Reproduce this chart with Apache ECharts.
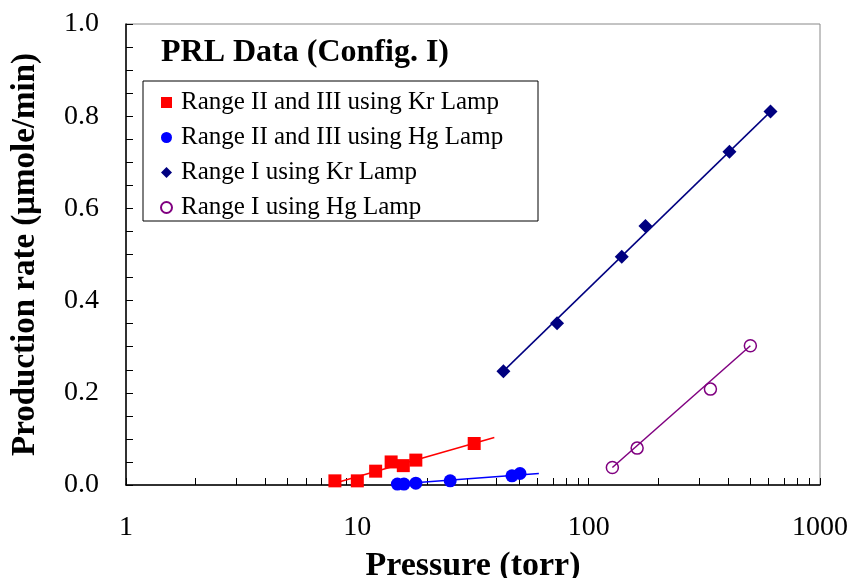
<!DOCTYPE html>
<html>
<head>
<meta charset="utf-8">
<script src="https://cdn.jsdelivr.net/npm/echarts@6/dist/echarts.min.js"></script>
<style>
  html, body { margin: 0; padding: 0; background: #fff; }
  #chart { width: 853px; height: 578px; }
</style>
</head>
<body>
<div id="chart"></div>
<script>
// pressure (torr) / production rate (umole/min)
var krLowX = [8, 10, 12, 14, 15.8, 17.9, 32];
var krLowY = [0.009, 0.009, 0.030, 0.050, 0.042, 0.054, 0.090];
var hgLowX = [14.9, 15.9, 17.9, 25.2, 46.6, 50.5];
var hgLowY = [0.002, 0.002, 0.004, 0.009, 0.020, 0.025];
var krHighX = [42.8, 73, 139, 176, 406, 611];
var krHighY = [0.247, 0.351, 0.495, 0.562, 0.723, 0.810];
var hgHighX = [126.6, 162, 336, 500];
var hgHighY = [0.038, 0.080, 0.208, 0.302];

// fitted lines (start / end)
var krLowFit = [[7.96, 0.004], [39.1, 0.103]];
var hgLowFit = [[15, 0.002], [60.9, 0.025]];
var krHighFit = [[42.8, 0.247], [611, 0.810]];
var hgHighFit = [[126.6, 0.038], [500, 0.302]];

var seriesNames = [
  "Range II and III using Kr Lamp",
  "Range II and III using Hg Lamp",
  "Range I using Kr Lamp",
  "Range I using Hg Lamp"
];
var xTicks = [1, 2, 3, 4, 5, 6, 7, 8, 9, 10, 20, 30, 40, 50, 60, 70, 80, 90,
  100, 200, 300, 400, 500, 600, 700, 800, 900, 1000];
var xLabels = [1, 10, 100, 1000];

function pairs(xs, ys) {
  return xs.map(function (x, i) { return [x, ys[i]]; });
}

var serif = "Liberation Serif";
var chart = echarts.init(document.getElementById("chart"));

chart.setOption({
  animation: false,
  title: {
    text: "PRL Data (Config. I)",
    left: 161,
    top: 37,
    padding: 0,
    textStyle: { fontFamily: serif, fontSize: 32, fontWeight: "bold", color: "#000" }
  },
  graphic: [{
    type: "rect",
    shape: { x: 143, y: 81, width: 395, height: 140 },
    style: { fill: "#fff", stroke: "#000", lineWidth: 1 },
    z: 5
  }],
  legend: {
    left: 160,
    top: 90,
    orient: "vertical",
    padding: 0,
    itemGap: 10,
    itemWidth: 11,
    itemHeight: 11,
    z: 6,
    textStyle: { fontFamily: serif, fontSize: 25, color: "#000", lineHeight: 24, padding: [0, 0, 0, 4] },
    data: [
      { name: seriesNames[0], icon: "rect" },
      { name: seriesNames[1], icon: "circle" },
      { name: seriesNames[2], icon: "diamond" },
      { name: seriesNames[3], icon: "circle" }
    ]
  },
  grid: {
    left: 126, right: 33, top: 24, bottom: 93,
    outerBoundsMode: "none",
    show: true, borderColor: "#888", borderWidth: 1
  },
  xAxis: {
    type: "log",
    logBase: 10,
    min: 1,
    max: 1000,
    name: "Pressure (torr)",
    nameLocation: "middle",
    nameGap: 64,
    nameTextStyle: { fontFamily: serif, fontSize: 34, fontWeight: "bold", color: "#000" },
    axisLine: { lineStyle: { color: "#000", width: 1.5 } },
    axisTick: { inside: true, length: 7, lineStyle: { color: "#000" }, customValues: xTicks },
    axisLabel: {
      margin: 29, fontFamily: serif, fontSize: 28, color: "#000",
      customValues: xLabels,
      formatter: function (v) { return String(v); }
    },
    splitLine: { show: false }
  },
  yAxis: {
    type: "value",
    min: 0,
    max: 1,
    interval: 0.2,
    name: "Production rate (\u03bcmole/min)",
    nameLocation: "middle",
    nameGap: 84,
    nameTextStyle: { fontFamily: serif, fontSize: 33, fontWeight: "bold", color: "#000" },
    axisLine: { show: true, lineStyle: { color: "#000", width: 1.5 } },
    axisTick: { inside: true, length: 7, lineStyle: { color: "#000" } },
    minorTick: { show: true, splitNumber: 4, length: 7, lineStyle: { color: "#000" } },
    axisLabel: {
      margin: 27, fontFamily: serif, fontSize: 28, color: "#000",
      formatter: function (v) { return v.toFixed(1); }
    },
    splitLine: { show: false }
  },
  series: [
    {
      type: "line", data: krLowFit, symbol: "none", silent: true,
      lineStyle: { color: "#ff0000", width: 1.5 }
    },
    {
      type: "line", data: hgLowFit, symbol: "none", silent: true,
      lineStyle: { color: "#0000ff", width: 1.5 }
    },
    {
      type: "line", data: krHighFit, symbol: "none", silent: true,
      lineStyle: { color: "#000080", width: 1.5 }
    },
    {
      type: "line", data: hgHighFit, symbol: "none", silent: true,
      lineStyle: { color: "#800080", width: 1.5 }
    },
    {
      name: seriesNames[0], type: "scatter", data: pairs(krLowX, krLowY),
      symbol: "rect", symbolSize: 13, itemStyle: { color: "#ff0000", opacity: 1 }
    },
    {
      name: seriesNames[1], type: "scatter", data: pairs(hgLowX, hgLowY),
      symbol: "circle", symbolSize: 13, itemStyle: { color: "#0000ff", opacity: 1 }
    },
    {
      name: seriesNames[2], type: "scatter", data: pairs(krHighX, krHighY),
      symbol: "diamond", symbolSize: 14, itemStyle: { color: "#000080", opacity: 1 }
    },
    {
      name: seriesNames[3], type: "scatter", data: pairs(hgHighX, hgHighY),
      symbol: "circle", symbolSize: 12,
      itemStyle: { color: "#ffffff", borderColor: "#800080", borderWidth: 1.5, opacity: 1 }
    }
  ]
});
</script>
</body>
</html>
